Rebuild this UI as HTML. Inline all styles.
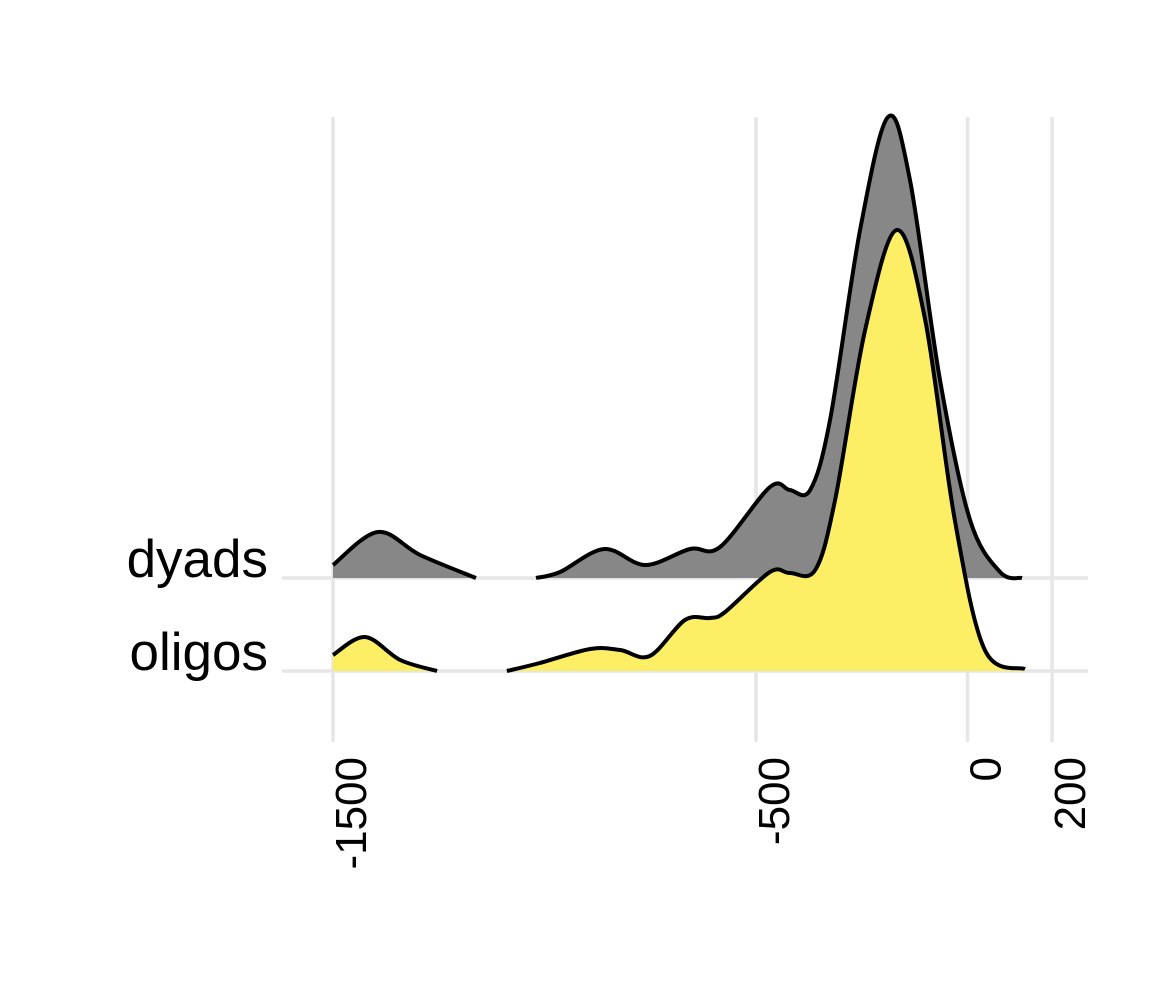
<!DOCTYPE html>
<html><head><meta charset="utf-8"><style>
html,body{margin:0;padding:0;background:#fff}
svg text{font-family:"Liberation Sans",sans-serif}
</style></head><body>
<svg id="chart" width="1150" height="996" viewBox="0 0 1150 996" xmlns="http://www.w3.org/2000/svg">
<g id="grid"></g>
<g id="ridges"></g>
<g id="labels"></g>
</svg>
<script>
const xTicks = [-1500, -500, 0, 200];
const xTickLabels = ["-1500", "-500", "0", "200"];
const groups = ["dyads", "oligos"];
const dyadsSeg1X = [-1500, -1394, -1294, -1162];
const dyadsSeg1H = [13, 46, 23, 0];
const dyadsSeg2X = [-1020, -963, -859, -762, -656, -585, -467, -420, -372, -325, -254, -188, -136, -65, 6, 77, 129];
const dyadsSeg2H = [0, 6, 29, 13, 29, 31, 91, 88, 88, 158, 348, 461, 398, 198, 58, 6, 0];
const oligosSeg1X = [-1500, -1424, -1341, -1254];
const oligosSeg1H = [16, 34, 11, 0];
const oligosSeg2X = [-1089, -1011, -892, -821, -751, -668, -609, -573, -467, -420, -360, -313, -242, -167, -100, -30, 41, 136];
const oligosSeg2H = [0, 8, 22, 21, 15, 51, 53, 59, 99, 98, 101, 171, 341, 441, 351, 151, 21, 2];

const NS = "http://www.w3.org/2000/svg";
const xScale = v => 967.5 + v * 0.423;
const baseY = {dyads: 578, oligos: 671};
const colors = {dyads: "#878787", oligos: "#fdef65"};

function mk(tag, attrs, parent){const e=document.createElementNS(NS,tag);for(const k in attrs)e.setAttribute(k,attrs[k]);parent.appendChild(e);return e;}

function smooth(pts){
  let d = "M" + pts[0][0] + "," + pts[0][1];
  for(let i=0;i<pts.length-1;i++){
    const p0=pts[Math.max(0,i-1)],p1=pts[i],p2=pts[i+1],p3=pts[Math.min(pts.length-1,i+2)];
    const c1=[p1[0]+(p2[0]-p0[0])/6,p1[1]+(p2[1]-p0[1])/6];
    const c2=[p2[0]-(p3[0]-p1[0])/6,p2[1]-(p3[1]-p1[1])/6];
    d+=" C"+c1[0]+","+c1[1]+" "+c2[0]+","+c2[1]+" "+p2[0]+","+p2[1];
  }
  return d;
}

const grid=document.getElementById("grid");
xTicks.forEach((t,i)=>{
  const l=mk("line",{x1:xScale(t),x2:xScale(t),y1:117,y2:742,stroke:"#e6e6e6","stroke-width":3.5},grid);
  
  
});
groups.forEach(g=>{
  const l=mk("line",{x1:282,x2:1088,y1:baseY[g],y2:baseY[g],stroke:"#e6e6e6","stroke-width":3.5},grid);
  
  
});

const ridges=document.getElementById("ridges");
const segs={dyads:[[dyadsSeg1X,dyadsSeg1H],[dyadsSeg2X,dyadsSeg2H]],oligos:[[oligosSeg1X,oligosSeg1H],[oligosSeg2X,oligosSeg2H]]};
groups.forEach(g=>{
  const gg=mk("g",{},ridges);
  
  
  segs[g].forEach((s,si)=>{
    const pts=s[0].map((x,i)=>[xScale(x),baseY[g]-s[1][i]]);
    const line=smooth(pts);
    const last=pts[pts.length-1],first=pts[0];
    const area=mk("path",{d:line+" L"+last[0]+","+baseY[g]+" L"+first[0]+","+baseY[g]+" Z",fill:colors[g],stroke:"none"},gg);
    
    
    const ln=mk("path",{d:line,fill:"none",stroke:"#000","stroke-width":4,"stroke-linejoin":"round"},gg);
    
    
  });
});

const labels=document.getElementById("labels");
groups.forEach(g=>{
  const t=mk("text",{x:268,y:baseY[g]-1,"text-anchor":"end","font-size":53,fill:"#000"},labels);
  t.textContent=g;
  
  
});
xTicks.forEach((v,i)=>{
  const x=xScale(v);
  const t=mk("text",{x:0,y:0,"text-anchor":"end","font-size":44,fill:"#000",transform:"translate("+(x+33)+",757) rotate(-90)"},labels);
  t.textContent=xTickLabels[i];
  
  
});
</script>
</body></html>
